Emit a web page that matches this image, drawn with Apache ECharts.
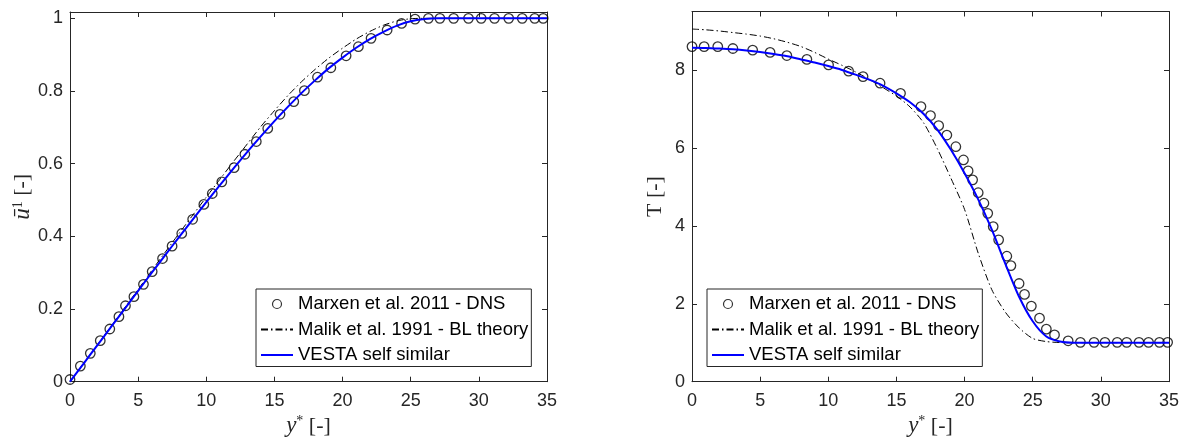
<!DOCTYPE html>
<html>
<head>
<meta charset="utf-8">
<script src="https://cdn.jsdelivr.net/npm/echarts@6/dist/echarts.min.js"></script>
<style>html,body{margin:0;padding:0;background:#fff}#c{width:1184px;height:437px}</style>
</head>
<body>
<div id="c"></div>
<script>
// ---------- data ----------
const xTicks = [0, 5, 10, 15, 20, 25, 30, 35];
const uTicks = [0, 0.2, 0.4, 0.6, 0.8, 1];
const tTicks = [0, 2, 4, 6, 8];
const seriesNames = ['Marxen et al. 2011 - DNS', 'Malik et al. 1991 - BL theory', 'VESTA self similar'];

// Left panel: velocity u
const uDnsX = [0, 0.76, 1.49, 2.22, 2.92, 3.59, 4.07, 4.69, 5.39, 6.03, 6.79, 7.49, 8.2, 9.0, 9.82, 10.44, 11.14, 12.04, 12.83, 13.67, 14.51, 15.41, 16.42, 17.2, 18.16, 19.14, 20.26, 21.16, 22.09, 23.27, 24.33, 25.32, 26.3, 27.14, 28.15, 29.24, 30.17, 31.15, 32.19, 33.18, 34.1, 34.72];
const uDnsY = [0.006, 0.043, 0.078, 0.113, 0.145, 0.179, 0.209, 0.234, 0.268, 0.303, 0.339, 0.373, 0.408, 0.447, 0.488, 0.518, 0.550, 0.589, 0.626, 0.661, 0.697, 0.736, 0.771, 0.801, 0.838, 0.864, 0.897, 0.922, 0.945, 0.968, 0.986, 0.998, 1.0, 1.0, 1.0, 1.0, 1.0, 1.0, 1.0, 1.0, 1.0, 1.0];
const lineX = [0, 1, 2, 3, 4, 5, 6, 7, 8, 9, 10, 11, 12, 13, 14, 15, 16, 17, 18, 19, 20, 21, 22, 23, 24, 25, 26, 27, 28, 29, 30, 31, 32, 33, 34, 35];
const uMalikY = [0, 0.051, 0.101, 0.152, 0.203, 0.254, 0.306, 0.357, 0.408, 0.458, 0.508, 0.557, 0.606, 0.654, 0.702, 0.746, 0.788, 0.826, 0.860, 0.891, 0.918, 0.943, 0.964, 0.981, 0.993, 0.999, 1.0, 1.0, 1.0, 1.0, 1.0, 1.0, 1.0, 1.0, 1.0, 1.0];
const uVestaY = [0, 0.050, 0.100, 0.150, 0.200, 0.250, 0.300, 0.349, 0.398, 0.446, 0.494, 0.541, 0.587, 0.632, 0.675, 0.717, 0.757, 0.795, 0.830, 0.863, 0.892, 0.919, 0.943, 0.963, 0.980, 0.992, 0.998, 1.0, 1.0, 1.0, 1.0, 1.0, 1.0, 1.0, 1.0, 1.0];

// Right panel: temperature T
const tDnsX = [0, 0.89, 1.89, 3.0, 4.45, 5.73, 6.96, 8.43, 10.02, 11.49, 12.55, 13.8, 15.3, 16.8, 17.5, 18.1, 18.7, 19.36, 19.92, 20.26, 20.59, 21.0, 21.42, 21.7, 22.1, 22.5, 23.1, 23.4, 24.0, 24.4, 24.9, 25.5, 26.0, 26.6, 27.6, 28.5, 29.5, 30.3, 31.2, 31.9, 32.8, 33.5, 34.3, 34.9];
const tDnsY = [8.60, 8.60, 8.60, 8.55, 8.51, 8.45, 8.37, 8.27, 8.13, 7.97, 7.83, 7.66, 7.40, 7.06, 6.83, 6.57, 6.33, 6.03, 5.69, 5.41, 5.18, 4.85, 4.58, 4.32, 3.98, 3.64, 3.22, 2.98, 2.52, 2.24, 1.94, 1.63, 1.35, 1.20, 1.05, 1.01, 1.01, 1.01, 1.01, 1.01, 1.01, 1.01, 1.01, 1.01];
const tMalikY = [9.05, 9.03, 9.0, 8.96, 8.92, 8.87, 8.80, 8.71, 8.60, 8.45, 8.28, 8.12, 7.95, 7.76, 7.55, 7.33, 7.05, 6.64, 5.98, 5.22, 4.42, 3.30, 2.36, 1.78, 1.38, 1.11, 1.03, 1.005, 1.0, 1.0, 1.0, 1.0, 1.0, 1.0, 1.0, 1.0];
const tVestaY = [8.57, 8.565, 8.55, 8.53, 8.50, 8.46, 8.41, 8.35, 8.27, 8.19, 8.10, 8.00, 7.88, 7.75, 7.60, 7.40, 7.17, 6.87, 6.47, 5.95, 5.35, 4.68, 3.90, 3.02, 2.18, 1.55, 1.16, 1.03, 1.0, 1.0, 1.0, 1.0, 1.0, 1.0, 1.0, 1.0];

// ---------- helpers ----------
const zip = (xs, ys) => xs.map((x, i) => [x, ys[i]]);
const TXT = '#262626';
const SANS = 'Liberation Sans, Arial, sans-serif';
const SERIF = 'Liberation Serif, DejaVu Serif, serif';
const tickFont = 18;
const nameRich = {
  i: { fontFamily: SERIF, fontStyle: 'italic', fontSize: 23, color: TXT },
  s: { fontFamily: SERIF, fontSize: 14, color: TXT, verticalAlign: 'top', lineHeight: 22 },
  n: { fontFamily: SERIF, fontSize: 22, color: TXT }
};

function xAxes(grid) {
  const base = {
    type: 'value', gridIndex: grid, min: 0, max: 35, interval: 5,
    axisLine: { show: true, onZero: false, lineStyle: { color: TXT, width: 1 } },
    axisTick: { show: true, inside: true, length: 5, customValues: xTicks, lineStyle: { color: TXT } },
    splitLine: { show: false }
  };
  return [
    Object.assign({}, base, {
      position: 'bottom',
      axisLabel: { show: true, customValues: xTicks, color: TXT, fontSize: tickFont, fontFamily: SANS, margin: 10 },
      name: '{i|y}{s|*} {n|[-]}', nameLocation: 'middle', nameGap: 33,
      nameTextStyle: { color: TXT, fontFamily: SERIF, fontSize: 22, rich: nameRich }
    }),
    Object.assign({}, base, { position: 'top', axisLabel: { show: false } })
  ];
}

function yAxes(grid, max, ticks, name, nameGap) {
  const base = {
    type: 'value', gridIndex: grid, min: 0, max: max,
    axisLine: { show: true, onZero: false, lineStyle: { color: TXT, width: 1 } },
    axisTick: { show: true, inside: true, length: 5, customValues: ticks, lineStyle: { color: TXT } },
    splitLine: { show: false }
  };
  return [
    Object.assign({}, base, {
      position: 'left',
      axisLabel: { show: true, customValues: ticks, color: TXT, fontSize: tickFont, fontFamily: SANS, margin: 7,
        formatter: v => String(Math.round(v * 10) / 10) },
      name: name, nameLocation: 'middle', nameGap: nameGap, nameRotate: 90,
      nameTextStyle: { color: TXT, fontFamily: SERIF, fontSize: 22, rich: nameRich }
    }),
    Object.assign({}, base, { position: 'right', axisLabel: { show: false } })
  ];
}

function panelSeries(xi, yi, dns, malik, vesta) {
  return [
    {
      name: seriesNames[0], type: 'scatter', xAxisIndex: xi, yAxisIndex: yi,
      data: dns, symbol: 'circle', symbolSize: 9.5, clip: false, z: 2,
      itemStyle: { color: 'rgba(0,0,0,0)', borderColor: '#000', borderWidth: 1.3 }
    },
    {
      name: seriesNames[1], type: 'line', xAxisIndex: xi, yAxisIndex: yi,
      data: malik, symbol: 'none', smooth: 0.25, z: 3,
      lineStyle: { color: '#000', width: 1, type: [7, 3, 1.5, 3] },
      itemStyle: { color: '#000' }
    },
    {
      name: seriesNames[2], type: 'line', xAxisIndex: xi, yAxisIndex: yi,
      data: vesta, symbol: 'none', smooth: 0.25, z: 4,
      lineStyle: { color: '#0000ff', width: 2 },
      itemStyle: { color: '#0000ff' }
    }
  ];
}

function legendAt(left) {
  return {
    orient: 'vertical', left: left, top: 289,
    padding: [5.5, 3, 2, 4], itemGap: 6.5, itemWidth: 32, itemHeight: 9,
    borderColor: TXT, borderWidth: 1, backgroundColor: '#fff',
    selectedMode: false,
    textStyle: { color: '#000', fontSize: 18.5, fontFamily: SANS },
    data: [
      { name: seriesNames[0], icon: 'circle', itemStyle: { color: 'rgba(0,0,0,0)', borderColor: '#000', borderWidth: 1.2 } },
      { name: seriesNames[1], itemStyle: { opacity: 0 } },
      { name: seriesNames[2], itemStyle: { opacity: 0 } }
    ]
  };
}

const chart = echarts.init(document.getElementById('c'), null, { renderer: 'canvas' });
chart.setOption({
  backgroundColor: '#fff',
  animation: false,
  grid: [
    { left: 70, top: 12, width: 477, height: 369.7, containLabel: false, outerBoundsMode: 'none' },
    { left: 692, top: 11.5, width: 477, height: 370.2, containLabel: false, outerBoundsMode: 'none' }
  ],
  xAxis: [].concat(xAxes(0), xAxes(1)),
  yAxis: [].concat(
    yAxes(0, 1.0175, uTicks, '{i|ū}{s|1} {n|[-]}', 36),
    yAxes(1, 9.5, tTicks, '{n|T [-]}', 26)
  ),
  legend: [legendAt(256), legendAt(707)],
  series: [].concat(
    panelSeries(0, 0, zip(uDnsX, uDnsY), zip(lineX, uMalikY), zip(lineX, uVestaY)),
    panelSeries(2, 2, zip(tDnsX, tDnsY), zip(lineX, tMalikY), zip(lineX, tVestaY))
  )
});
</script>
</body>
</html>
